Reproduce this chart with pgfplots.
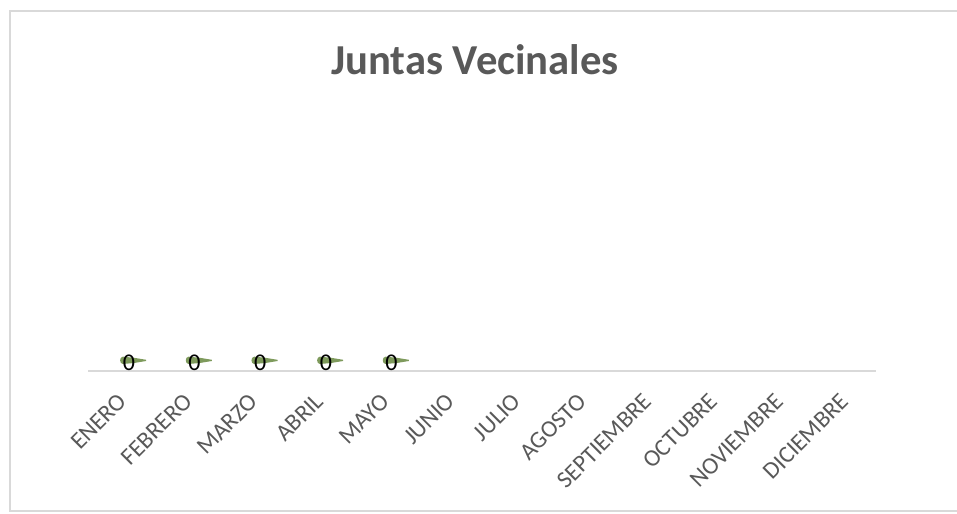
\documentclass[border=0pt]{standalone}
\usepackage{pgfplots}
\pgfplotsset{compat=1.18}
\usepackage{fontspec}
\setmainfont{Carlito}
\definecolor{txt}{HTML}{595959}
\definecolor{axl}{HTML}{D9D9D9}
\definecolor{blobc}{HTML}{7E9A5C}
\pgfdeclareplotmark{blob}{%
  \pgfpathmoveto{\pgfqpoint{1.5pt}{5.25pt}}%
  \pgfpathcurveto{\pgfqpoint{-1.2pt}{5.4pt}}{\pgfqpoint{-1.2pt}{10.6pt}}{\pgfqpoint{1.5pt}{10.75pt}}%
  \pgfpathlineto{\pgfqpoint{10pt}{9.9pt}}%
  \pgfpathlineto{\pgfqpoint{19pt}{8.4pt}}%
  \pgfpathlineto{\pgfqpoint{19pt}{7.5pt}}%
  \pgfpathlineto{\pgfqpoint{10pt}{6pt}}%
  \pgfpathclose
  \pgfusepathqfill}
\begin{document}
\begin{tikzpicture}
\path[use as bounding box] (0pt,0pt) rectangle (717.75pt,385.5pt);
\draw[axl, line width=1.2pt] (724pt,377.25pt) -- (7.5pt,377.25pt) -- (7.5pt,2.25pt) -- (724pt,2.25pt);
\node[text=txt, font=\fontsize{32}{38}\selectfont\bfseries] at (356.25pt,340.5pt) {Juntas Vecinales};
\begin{axis}[
  at={(66pt,107.25pt)}, anchor=south west,
  scale only axis, width=591pt, height=195pt,
  xmin=-0.5, xmax=11.5, ymin=0, ymax=1,
  axis x line=bottom, axis y line=none,
  x axis line style={draw=axl, line width=1pt, -},
  xtick={0,...,11}, major tick length=0pt,
  xticklabels={ENERO,FEBRERO,MARZO,ABRIL,MAYO,JUNIO,JULIO,AGOSTO,SEPTIEMBRE,OCTUBRE,NOVIEMBRE,DICIEMBRE},
  xticklabel style={xshift=-3pt, rotate=45, anchor=north east, inner sep=0pt, text=txt, font=\fontsize{18}{21}\selectfont},
  xticklabel shift=15.5pt,
  /pgf/number format/assume math mode=true,
  clip=false,
]
\addplot[only marks, mark=blob, mark options={fill=blobc, draw=none},
  nodes near coords,
  every node near coord/.style={anchor=center, xshift=6pt, yshift=6.5pt, text=black, font=\fontsize{18}{21}\selectfont}]
  coordinates {(0,0) (1,0) (2,0) (3,0) (4,0)};
\end{axis}
\end{tikzpicture}
\end{document}
